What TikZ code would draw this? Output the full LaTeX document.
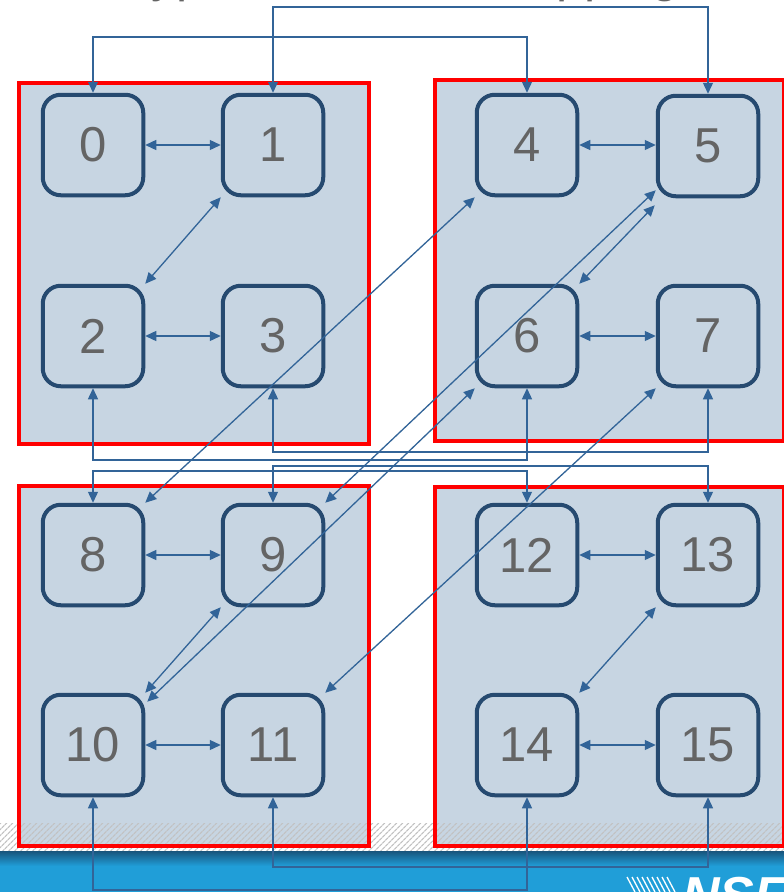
\documentclass[tikz,border=0pt]{standalone}
\usepackage{fontspec}
\setmainfont{Liberation Sans}
\usetikzlibrary{arrows.meta,patterns.meta,calc}
\definecolor{panelfill}{RGB}{199,213,226}
\definecolor{nodeline}{RGB}{38,74,112}
\definecolor{arrowc}{RGB}{50,100,152}
\definecolor{labelgray}{RGB}{100,100,100}
\definecolor{barblue}{RGB}{32,158,216}
\definecolor{bardark}{RGB}{24,84,124}
\begin{document}
\begin{tikzpicture}[x=1pt,y=-1pt,
  panel/.style={fill=panelfill},
  panelframe/.style={draw=red,line width=4.5pt},
  cube/.style={draw=nodeline,line width=4pt,rounded corners=18pt,minimum size=100.5pt,inner sep=0pt,font=\fontsize{49}{55}\selectfont,text=labelgray},
  link/.style={draw=arrowc,line width=1.3pt,{Triangle[length=11pt,width=10pt]}-{Triangle[length=11pt,width=10pt]}},
]
\useasboundingbox (0,0) rectangle (784,892);
\fill[white] (0,0) rectangle (784,892);

% title (cut off at the top)
\node[anchor=base,text=labelgray,font=\fontsize{50}{60}\selectfont,inner sep=0pt] (title) at (397,-8.5) {Hypercube Task Mapping};

% panels
\fill[panel] (19,83) rectangle (369,444);
\fill[panel] (435,80) rectangle (784,441);
\fill[panel] (19,486) rectangle (369,846);
\fill[panel] (435,487) rectangle (784,846);

% hatched strip
\fill[pattern={Lines[angle=45,distance=4pt,line width=1.3pt]},pattern color=black!24] (0,823) rectangle (784,851);

\draw[panelframe] (19,83) rectangle (369,444);
\draw[panelframe] (435,80) rectangle (784,441);
\draw[panelframe] (19,486) rectangle (369,846);
\draw[panelframe] (435,487) rectangle (784,846);

% blue bar
\fill[barblue] (0,851) rectangle (784,892);
\shade[top color=bardark,bottom color=barblue] (0,851) rectangle (784,866);

% nodes
\node[cube] (n0) at (93,145) {0};
\node[cube] (n1) at (273,145) {1};
\node[cube] (n2) at (93,336) {2};
\node[cube] (n3) at (273,336) {3};
\node[cube] (n4) at (527,145) {4};
\node[cube] (n5) at (708,146) {5};
\node[cube] (n6) at (527,336) {6};
\node[cube] (n7) at (708,336) {7};
\node[cube] (n8) at (93,555) {8};
\node[cube] (n9) at (273,555) {9};
\node[cube] (n10) at (93,745) {10};
\node[cube] (n11) at (273,745) {11};
\node[cube] (n12) at (527,555) {12};
\node[cube] (n13) at (708,555) {13};
\node[cube] (n14) at (527,745) {14};
\node[cube] (n15) at (708,745) {15};

% levels of the routed connectors
\coordinate (lvlA) at (0,7);
\coordinate (lvlB) at (0,37);
\coordinate (lvlC) at (0,452);
\coordinate (lvlD) at (0,460);
\coordinate (lvlE) at (0,466);
\coordinate (lvlF) at (0,471);
\coordinate (lvlG) at (0,867);
\coordinate (lvlH) at (0,890);

% horizontal links
\draw[link] (n0.east) -- (n1.west);
\draw[link] (n2.east) -- (n3.west);
\draw[link] (n4.east) -- (n5.west |- n4.east);
\draw[link] (n6.east) -- (n7.west);
\draw[link] (n8.east) -- (n9.west);
\draw[link] (n10.east) -- (n11.west);
\draw[link] (n12.east) -- (n13.west);
\draw[link] (n14.east) -- (n15.west);

% short diagonals
\draw[link] (n1.south west) -- (n2.north east);
\draw[link] ([shift={(-1,7)}]n5.south west) -- (n6.north east);
\draw[link] (n9.south west) -- (n10.north east);
\draw[link] (n13.south west) -- (n14.north east);

% long diagonals
\draw[link] (n8.north east) -- (n4.south west);
\draw[link] (n9.north east) -- ([shift={(0,-8)}]n5.south west);
\draw[link] (n6.south west) -- ([shift={(2,9)}]n10.north east);
\draw[link] (n11.north east) -- (n7.south west);

% routed links
\draw[link] (n0.north) -- (n0.north |- lvlB) -- (n4.north |- lvlB) -- (n4.north);
\draw[link] (n1.north) -- (n1.north |- lvlA) -- (n5.north |- lvlA) -- (n5.north);
\draw[link] (n3.south) -- (n3.south |- lvlC) -- (n7.south |- lvlC) -- (n7.south);
\draw[link] (n2.south) -- (n2.south |- lvlD) -- (n6.south |- lvlD) -- (n6.south);
\draw[link] (n9.north) -- (n9.north |- lvlE) -- (n13.north |- lvlE) -- (n13.north);
\draw[link] (n8.north) -- (n8.north |- lvlF) -- (n12.north |- lvlF) -- (n12.north);
\draw[link] (n11.south) -- (n11.south |- lvlG) -- (n15.south |- lvlG) -- (n15.south);
\draw[link] (n10.south) -- (n10.south |- lvlH) -- (n14.south |- lvlH) -- (n14.south);

% logo (cut off at the bottom right)
\foreach \i in {0,...,8} \draw[white,line width=1.3pt] ({627+5*\i},877) -- ({635+5*\i},892);
\node[anchor=north west,inner sep=0pt,text=white,font=\bfseries\itshape\fontsize{52}{60}\selectfont] (nsf) at (682,877) {NSF};
\end{tikzpicture}
\end{document}
